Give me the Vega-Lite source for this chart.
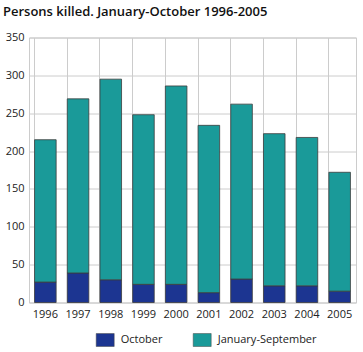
{
  "$schema": "https://vega.github.io/schema/vega-lite/v6.json",
  "width": 327,
  "height": 265,
  "autosize": {"type": "none"},
  "padding": {"left": 29, "top": 37.5, "right": 7, "bottom": 49.5},
  "background": "white",
  "title": {
    "text": "Persons killed. January-October 1996-2005",
    "anchor": "start",
    "frame": "group",
    "dx": -26,
    "offset": 3,
    "baseline": "alphabetic",
    "font": "Open Sans",
    "fontSize": 13,
    "fontWeight": 600,
    "color": "#111111"
  },
  "config": {
    "view": {"stroke": "#cccccc", "strokeWidth": 1},
    "font": "Open Sans"
  },
  "data": {
    "values": [
      {"year": "1996", "series": "October", "value": 27},
      {"year": "1996", "series": "January-September", "value": 188},
      {"year": "1997", "series": "October", "value": 39},
      {"year": "1997", "series": "January-September", "value": 230},
      {"year": "1998", "series": "October", "value": 30},
      {"year": "1998", "series": "January-September", "value": 265},
      {"year": "1999", "series": "October", "value": 24},
      {"year": "1999", "series": "January-September", "value": 224},
      {"year": "2000", "series": "October", "value": 24},
      {"year": "2000", "series": "January-September", "value": 262},
      {"year": "2001", "series": "October", "value": 13},
      {"year": "2001", "series": "January-September", "value": 221},
      {"year": "2002", "series": "October", "value": 31},
      {"year": "2002", "series": "January-September", "value": 231},
      {"year": "2003", "series": "October", "value": 22},
      {"year": "2003", "series": "January-September", "value": 201},
      {"year": "2004", "series": "October", "value": 22},
      {"year": "2004", "series": "January-September", "value": 196},
      {"year": "2005", "series": "October", "value": 15},
      {"year": "2005", "series": "January-September", "value": 157}
    ]
  },
  "mark": {"type": "bar", "stroke": "#3c3c3c", "strokeWidth": 0.8},
  "encoding": {
    "x": {
      "field": "year",
      "type": "nominal",
      "scale": {"paddingInner": 0.34, "paddingOuter": 0.17},
      "axis": {
        "title": null,
        "labelAngle": 0,
        "grid": true,
        "bandPosition": 0,
        "gridColor": "#cccccc",
        "ticks": false,
        "domain": false,
        "labelFontSize": 11,
        "labelColor": "#222222",
        "labelPadding": 6
      }
    },
    "y": {
      "field": "value",
      "type": "quantitative",
      "stack": "zero",
      "scale": {"domain": [0, 350], "nice": false},
      "axis": {
        "title": null,
        "values": [0, 50, 100, 150, 200, 250, 300, 350],
        "grid": true,
        "gridColor": "#cccccc",
        "ticks": false,
        "domain": false,
        "labelFontSize": 11,
        "labelColor": "#222222",
        "labelPadding": 5
      }
    },
    "color": {
      "field": "series",
      "type": "nominal",
      "scale": {
        "domain": ["October", "January-September"],
        "range": ["#1c3591", "#1a9a99"]
      },
      "legend": {
        "title": null,
        "orient": "none",
        "direction": "horizontal",
        "legendX": 66.7,
        "legendY": 293,
        "symbolType": "M-1,-0.72L1,-0.72L1,0.72L-1,0.72Z",
        "symbolSize": 324,
        "symbolStrokeColor": "#444444",
        "symbolStrokeWidth": 0.5,
        "symbolOpacity": 1,
        "labelFontSize": 11,
        "labelColor": "#222222",
        "labelOffset": 6,
        "columnPadding": 29
      }
    },
    "order": {"field": "series", "sort": "descending"}
  }
}
